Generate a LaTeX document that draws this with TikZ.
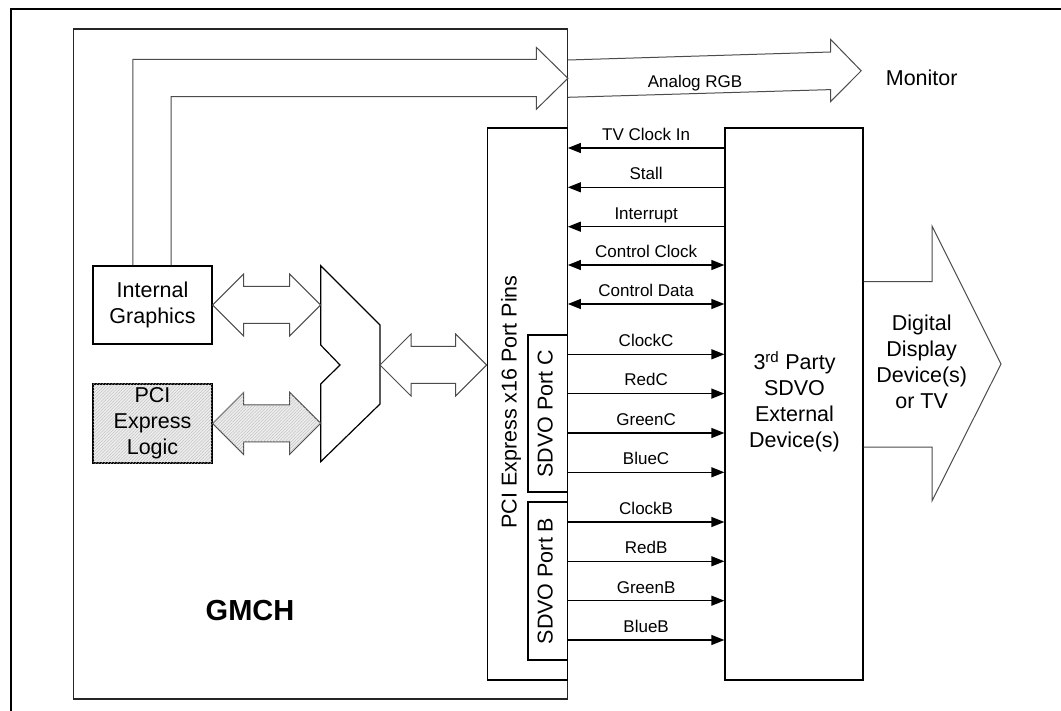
\documentclass[tikz,border=0pt]{standalone}
\usepackage{fontspec}
\setmainfont{Liberation Sans}
\usetikzlibrary{calc,arrows.meta,patterns.meta}
\tikzset{
  box/.style={draw=black, line width=1.2pt, inner sep=0pt, fill=white},
  hatch/.style={fill=gray!14, postaction={pattern={Lines[angle=45,distance=2.2pt,line width=0.35pt]}, pattern color=gray!55}},
  hollow/.style={draw=black!70, line width=1pt, line join=miter},
  sig/.style={line width=1.3pt},
  tipend/.style={-{Triangle[length=13pt,width=10pt]}},
  tipboth/.style={{Triangle[length=13pt,width=10pt]}-{Triangle[length=13pt,width=10pt]}},
  lbl/.style={font=\fontsize{17}{20}\selectfont, text height=12.5pt, text depth=3.5pt, inner sep=0pt, above=3.5pt, midway},
  big/.style={font=\fontsize{21.5}{26}\selectfont, align=center, inner sep=0pt}
}
\newcommand\dblarrow[3]{%
  \draw[hollow,#1] (#2) -- ($(#2)+(31,-31)$) -- ($(#2)+(31,-18.5)$) -- ($(#3)+(-31,-18.5)$) -- ($(#3)+(-31,-31)$) -- (#3)
    -- ($(#3)+(-31,31)$) -- ($(#3)+(-31,18.5)$) -- ($(#2)+(31,18.5)$) -- ($(#2)+(31,31)$) -- cycle;}
\begin{document}
\begin{tikzpicture}[x=1pt,y=-1pt]
\useasboundingbox (0,0) rectangle (1061,711);
\fill[white] (0,0) rectangle (1061,711);
% outer frame
\draw[line width=2.2pt] (11,711) -- (11,9) -- (1061,9);
% GMCH
\node[box, draw=black!85, line width=1.4pt, minimum width=494pt, minimum height=670pt] (gmch) at (320.2,364) {};
\node[font=\fontsize{29}{34}\selectfont\bfseries, anchor=base] (gmchtxt) at (250,620.5) {GMCH};
% internal blocks
\node[box, minimum width=119pt, minimum height=78pt] (ig) at (152.5,305) {};
\node[big] (igtxt) at (152.5,305) {Internal\\Graphics};
\node[box, hatch, minimum width=119pt, minimum height=79pt] (pel) at (152.5,423.5) {};
\node[big] (peltxt) at (152.5,423.5) {PCI\\Express\\Logic};
% mux
\coordinate (mux1) at (320.7,305);
\coordinate (mux2) at (320.7,423.3);
\coordinate (muxo) at (380,365);
\draw[box] (320.7,265.7) -- (380,325) -- (380,404) -- (320.7,461.7) -- (320.7,384) -- (340,365) -- (320.7,345) -- cycle;
% PCIe port pins
\node[box, minimum width=80pt, minimum height=552pt] (pcie) at (527.3,404) {};
\node[font=\fontsize{21.5}{26}\selectfont, rotate=90, anchor=base, inner sep=0pt] (pcietxt) at (516.7,402) {PCI Express x16 Port Pins};
\node[box, minimum width=39.3pt, minimum height=157pt] (portc) at (547.6,413.5) {};
\node[font=\fontsize{21.5}{26}\selectfont, rotate=90, anchor=base, inner sep=0pt] (portctxt) at (552.5,413.5) {SDVO Port C};
\node[box, minimum width=39.3pt, minimum height=158pt] (portb) at (547.6,581) {};
\node[font=\fontsize{21.5}{26}\selectfont, rotate=90, anchor=base, inner sep=0pt] (portbtxt) at (552.5,581) {SDVO Port B};
% hollow arrows
\dblarrow{}{ig.east}{mux1}
\dblarrow{hatch}{pel.east}{mux2}
\dblarrow{}{muxo}{pcie.west |- muxo}
% third party device
\node[box, minimum width=138pt, minimum height=552pt] (third) at (794,404) {};
\node[big] (thirdtxt) at (794.5,402) {3\textsuperscript{rd} Party\\SDVO\\External\\Device(s)};
% analog RGB
\coordinate (a1) at ($(ig.north west)!0.3375!(ig.north east)$);
\coordinate (a2) at ($(ig.north west)!0.655!(ig.north east)$);
\coordinate (tip1) at (gmch.east |- 0,78.3);
\draw[hollow] (a1) |- ($(tip1)+(-31.6,-19)$) -- ++(0,-12) -- (tip1) -- ($(tip1)+(-31.6,31)$) -- ++(0,-12.6) -| (a2);
\node[font=\fontsize{21.5}{26}\selectfont, anchor=base, inner sep=0pt] (monitor) at (921.7,85.5) {Monitor};
\coordinate (tip2) at ($(monitor.west)+(-24.5,-7)$);
\draw[hollow] (gmch.east |- 0,60) -- ($(tip2)+(-30.6,-18.8)$) -- ++(0,-12.7) -- (tip2) -- ($(tip2)+(-30.6,30.8)$) -- ++(0,-12) -- (gmch.east |- 0,97.3);
\node[font=\fontsize{17}{20}\selectfont, anchor=base, inner sep=0pt] (rgb) at (695,87.3) {Analog RGB};
% digital display arrow
\draw[hollow] (third.east |- 0,281.7) -- (932,281.7) -- (932,226) -- (1001,364) -- (932,501) -- (932,447) -- (third.east |- 0,447);
\node[big] (dig) at (921.7,362) {Digital\\Display\\Device(s)\\or TV};
% signals
\foreach \yy/\tt in {148/TV Clock In, 187.3/Stall, 226.7/Interrupt}
  \draw[sig, tipend] (third.west |- 0,\yy) -- (pcie.east |- 0,\yy) node[lbl] {\tt};
\foreach \yy/\tt in {265/Control Clock, 304/Control Data}
  \draw[sig, tipboth] (pcie.east |- 0,\yy) -- (third.west |- 0,\yy) node[lbl] {\tt};
\foreach \yy/\tt in {354.3/ClockC, 393.6/RedC, 433/GreenC, 472.3/BlueC}
  \draw[sig, tipend] (portc.east |- 0,\yy) -- (third.west |- 0,\yy) node[lbl] {\tt};
\foreach \yy/\tt in {522/ClockB, 561.3/RedB, 600.7/GreenB, 640/BlueB}
  \draw[sig, tipend] (portb.east |- 0,\yy) -- (third.west |- 0,\yy) node[lbl] {\tt};
\end{tikzpicture}
\end{document}
